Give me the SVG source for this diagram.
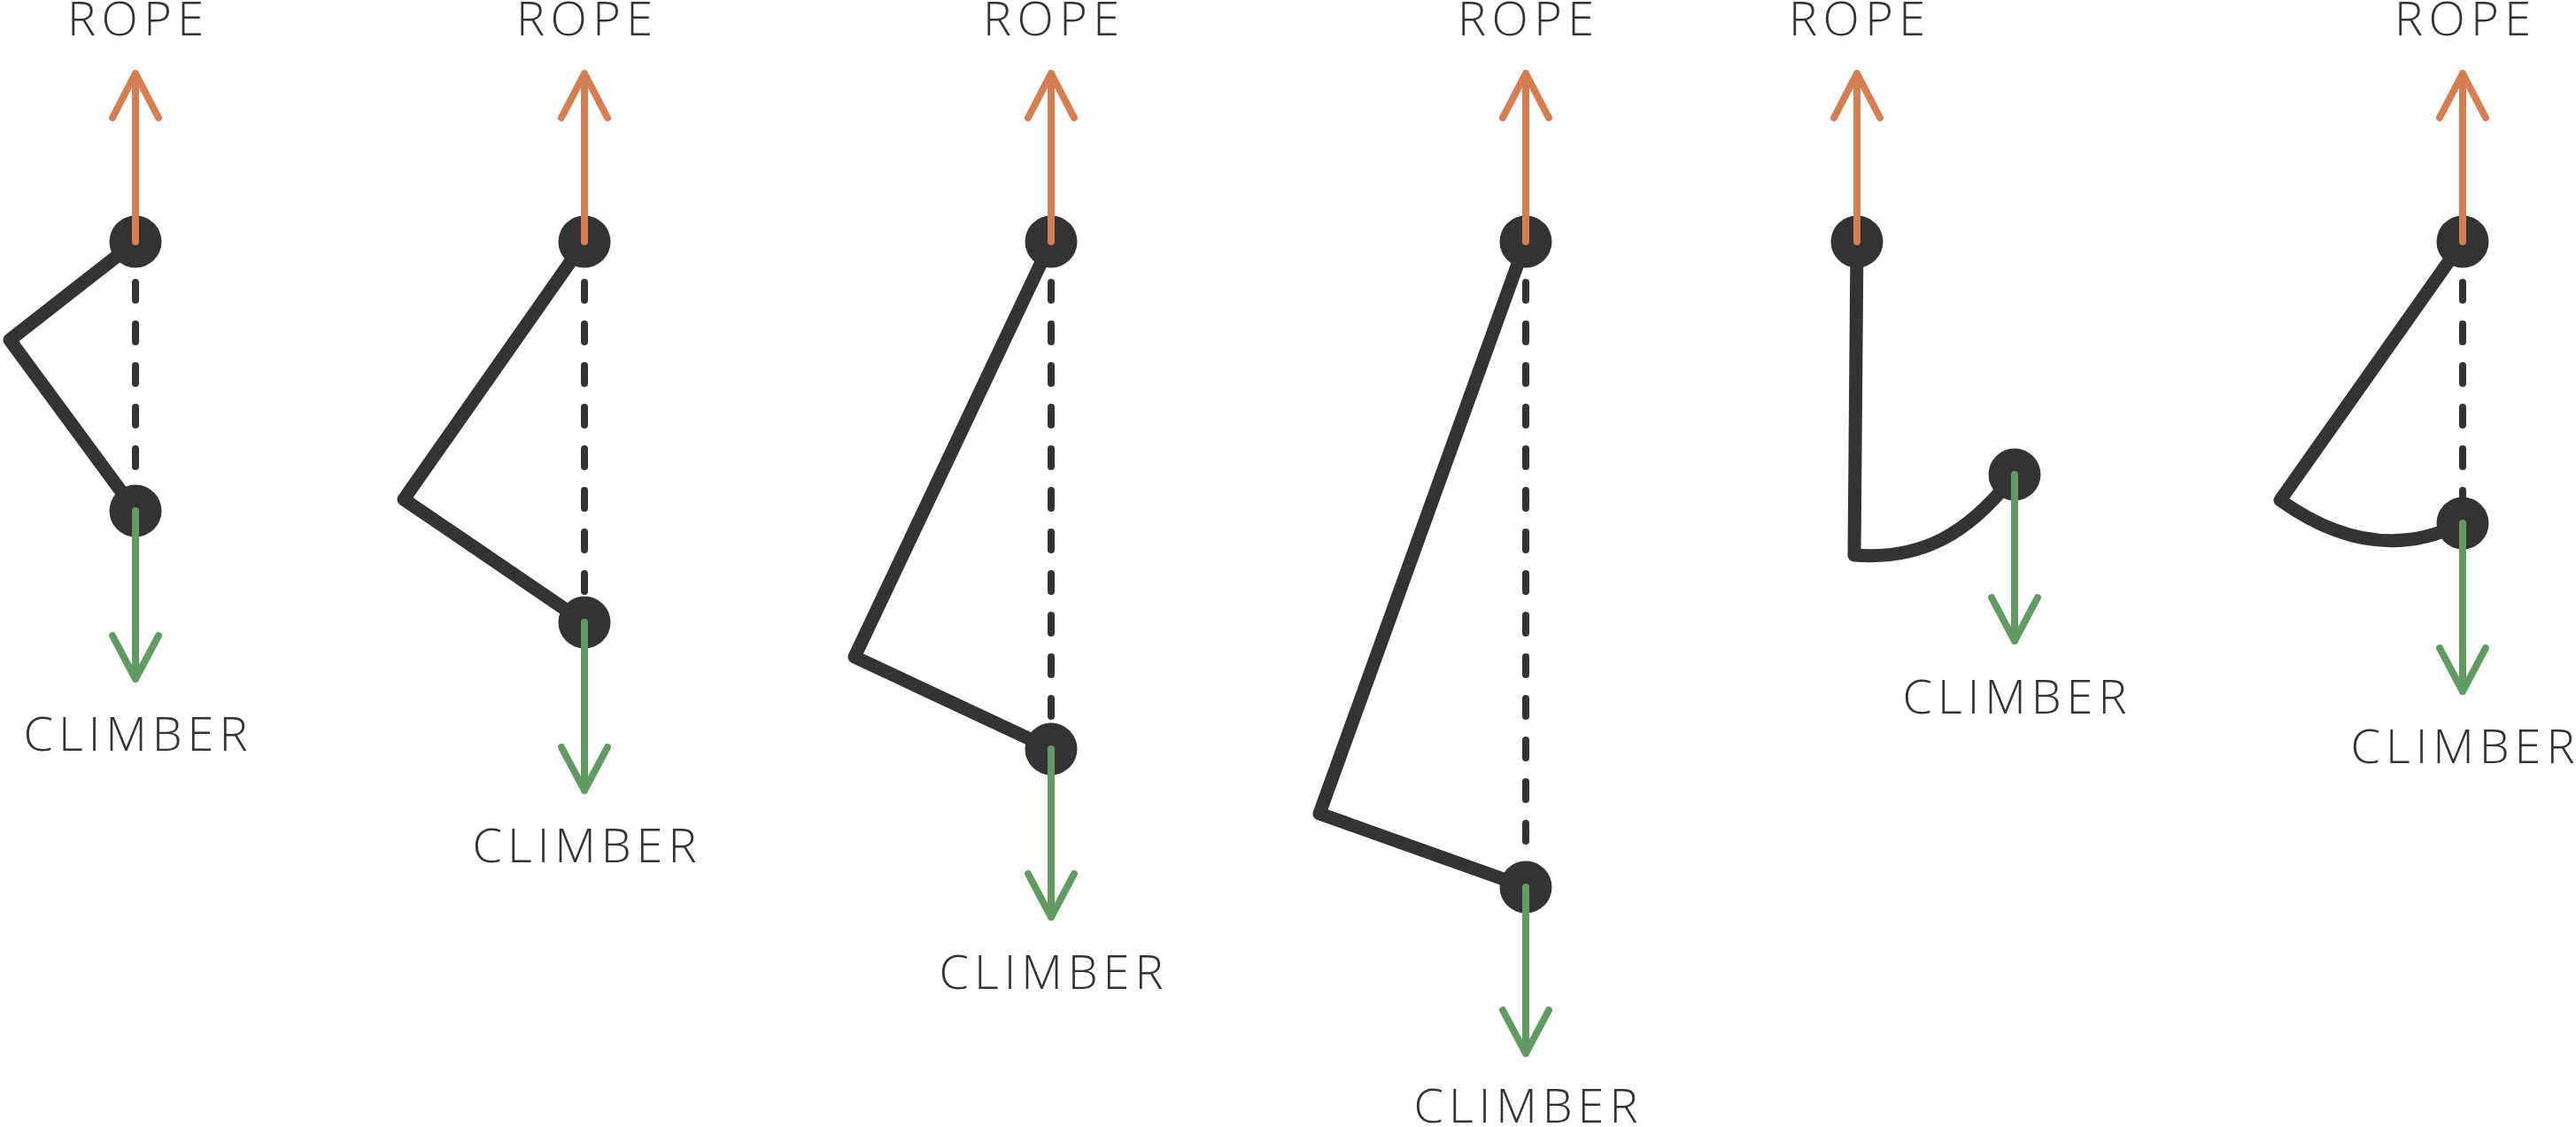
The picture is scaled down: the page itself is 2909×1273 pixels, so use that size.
<svg xmlns="http://www.w3.org/2000/svg" width="2909" height="1273" viewBox="0 0 2909 1273">
<style>
.bg{fill:#ffffff}
.rope{fill:none;stroke:#333333;stroke-width:15;stroke-linejoin:round;stroke-linecap:round}
.dash{fill:none;stroke:#333333;stroke-width:8;stroke-linecap:round;stroke-dasharray:20 27}
.knot{fill:#333333}
.up{fill:none;stroke:#D47E52;stroke-width:8;stroke-linecap:round;stroke-linejoin:round}
.down{fill:none;stroke:#629B62;stroke-width:8;stroke-linecap:round;stroke-linejoin:round}
.lbl{font-family:"Open Sans","Liberation Sans",sans-serif;font-weight:300;font-size:54px;fill:#333333;text-anchor:middle}
</style>
<rect class="bg" x="0" y="0" width="2909" height="1273"/>

<g id="connectors">
  <line class="dash" x1="153" y1="319" x2="153" y2="535"/>
  <line class="dash" x1="660" y1="319" x2="660" y2="690"/>
  <line class="dash" x1="1187" y1="319" x2="1187" y2="830"/>
  <line class="dash" x1="1723" y1="319" x2="1723" y2="985"/>
  <line class="dash" x1="2781" y1="319" x2="2781" y2="585"/>
  <polyline class="rope" points="153,273 11,384 153,577"/>
  <polyline class="rope" points="660,273 456,564 660,703"/>
  <polyline class="rope" points="1187,273 965,742 1187,846"/>
  <polyline class="rope" points="1723,273 1490,919 1723,1002"/>
  <path class="rope" d="M2097,273 L2094,627 C2170,633 2222,603 2272,540"/>
  <path class="rope" d="M2781,273 L2575,565 Q2680,640 2778,592"/>
</g>

<g id="panel1">
  <circle class="knot" cx="153" cy="273" r="29.5"/>
  <circle class="knot" cx="153" cy="577" r="29.5"/>
  <path class="up" d="M153,273 V83 M127,133 L153,83 L179,133"/>
  <path class="down" d="M153,577 V767 M127,718 L153,767 L179,718"/>
  <text class="lbl" x="153" y="40" textLength="154" lengthAdjust="spacing">ROPE</text>
  <text class="lbl" x="153" y="848" textLength="253" lengthAdjust="spacing">CLIMBER</text>
</g>

<g id="panel2">
  <circle class="knot" cx="660" cy="273" r="29.5"/>
  <circle class="knot" cx="660" cy="703" r="29.5"/>
  <path class="up" d="M660,273 V83 M634,133 L660,83 L686,133"/>
  <path class="down" d="M660,703 V893 M634,844 L660,893 L686,844"/>
  <text class="lbl" x="660" y="40" textLength="154" lengthAdjust="spacing">ROPE</text>
  <text class="lbl" x="660" y="974" textLength="253" lengthAdjust="spacing">CLIMBER</text>
</g>

<g id="panel3">
  <circle class="knot" cx="1187" cy="273" r="29.5"/>
  <circle class="knot" cx="1187" cy="846" r="29.5"/>
  <path class="up" d="M1187,273 V83 M1161,133 L1187,83 L1213,133"/>
  <path class="down" d="M1187,846 V1036 M1161,987 L1187,1036 L1213,987"/>
  <text class="lbl" x="1187" y="40" textLength="154" lengthAdjust="spacing">ROPE</text>
  <text class="lbl" x="1187" y="1117" textLength="253" lengthAdjust="spacing">CLIMBER</text>
</g>

<g id="panel4">
  <circle class="knot" cx="1723" cy="273" r="29.5"/>
  <circle class="knot" cx="1723" cy="1002" r="29.5"/>
  <path class="up" d="M1723,273 V83 M1697,133 L1723,83 L1749,133"/>
  <path class="down" d="M1723,1002 V1190 M1697,1141 L1723,1190 L1749,1141"/>
  <text class="lbl" x="1723" y="40" textLength="154" lengthAdjust="spacing">ROPE</text>
  <text class="lbl" x="1723" y="1268" textLength="253" lengthAdjust="spacing">CLIMBER</text>
</g>

<g id="panel5">
  <circle class="knot" cx="2097" cy="273" r="29.5"/>
  <circle class="knot" cx="2275" cy="536" r="29.5"/>
  <path class="up" d="M2097,273 V83 M2071,133 L2097,83 L2123,133"/>
  <path class="down" d="M2275,536 V724 M2249,675 L2275,724 L2301,675"/>
  <text class="lbl" x="2097" y="40" textLength="154" lengthAdjust="spacing">ROPE</text>
  <text class="lbl" x="2275" y="806" textLength="253" lengthAdjust="spacing">CLIMBER</text>
</g>

<g id="panel6">
  <circle class="knot" cx="2781" cy="273" r="29.5"/>
  <circle class="knot" cx="2781" cy="591" r="29.5"/>
  <path class="up" d="M2781,273 V83 M2755,133 L2781,83 L2807,133"/>
  <path class="down" d="M2781,591 V781 M2755,732 L2781,781 L2807,732"/>
  <text class="lbl" x="2781" y="40" textLength="154" lengthAdjust="spacing">ROPE</text>
  <text class="lbl" x="2781" y="862" textLength="253" lengthAdjust="spacing">CLIMBER</text>
</g>
</svg>
